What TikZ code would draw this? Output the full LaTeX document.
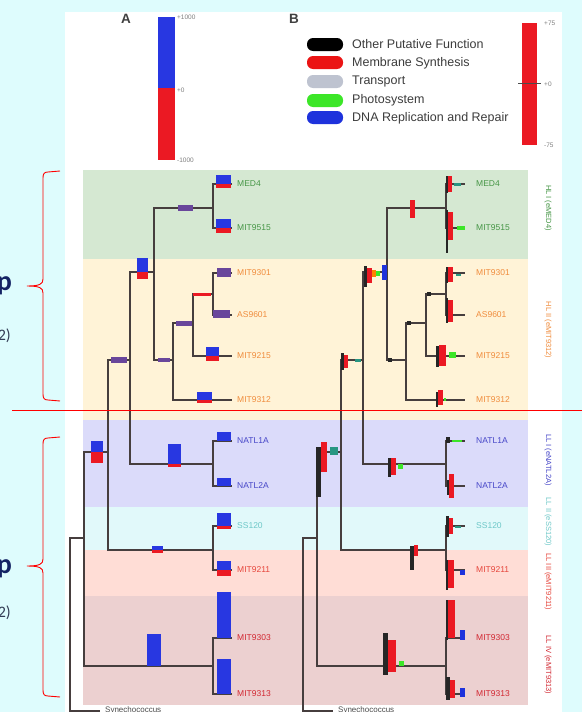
\documentclass[tikz,border=0pt]{standalone}
\usepackage{fontspec}
\setmainfont{Liberation Sans}
\newfontfamily\slidefont{Carlito}

\definecolor{slidebg}{RGB}{222,252,253}
\definecolor{bandHLI}{RGB}{213,232,210}
\definecolor{bandHLII}{RGB}{255,243,215}
\definecolor{bandLLI}{RGB}{219,219,250}
\definecolor{bandLLII}{RGB}{225,249,250}
\definecolor{bandLLIII}{RGB}{255,221,214}
\definecolor{bandLLIV}{RGB}{236,208,208}
\definecolor{txtHLI}{RGB}{70,150,70}
\definecolor{txtHLII}{RGB}{240,140,60}
\definecolor{txtLLI}{RGB}{70,70,200}
\definecolor{txtLLII}{RGB}{110,200,200}
\definecolor{txtLLIII}{RGB}{230,70,60}
\definecolor{txtLLIV}{RGB}{210,40,50}
\definecolor{treeline}{RGB}{70,62,62}
\definecolor{gainblue}{RGB}{40,55,225}
\definecolor{lossred}{RGB}{235,25,35}
\definecolor{mixpurple}{RGB}{105,70,155}
\definecolor{legred}{RGB}{235,20,20}
\definecolor{leggray}{RGB}{190,195,208}
\definecolor{leggreen}{RGB}{60,230,40}
\definecolor{legblue}{RGB}{30,50,220}
\definecolor{tealtick}{RGB}{40,150,130}
\definecolor{navy}{RGB}{20,35,100}
\definecolor{slidegray}{RGB}{50,60,85}
\definecolor{legtext}{RGB}{60,60,60}

\tikzset{
  branch/.style={draw=treeline, line width=1.4pt},
  gain/.style={fill=gainblue},
  loss/.style={fill=lossred},
  mix/.style={fill=mixpurple},
  blk/.style={fill=black!85},
  rd/.style={fill=lossred},
  leaflabel/.style={anchor=west, inner sep=0pt, font=\fontsize{8.5}{9}\selectfont},
  cladelabel/.style={rotate=-90, inner sep=0pt, font=\fontsize{7.5}{8}\selectfont},
  legpill/.style={rounded corners=6pt},
  legtxt/.style={anchor=west, inner sep=0pt, text=legtext, font=\fontsize{12.5}{13}\selectfont},
  scaletxt/.style={anchor=west, inner sep=0pt, text=gray, font=\fontsize{6.5}{7}\selectfont},
  panelletter/.style={inner sep=0pt, text=black!75, font=\bfseries\fontsize{13.5}{14}\selectfont},
  bracestyle/.style={draw=red, line width=0.9pt}
}

% Rectangular phylogram; #1 = name prefix, #2 = gap before leaf labels
\newcommand\phylotree[2]{%
  \coordinate (#1root)   at (70,620);
  \coordinate (#1pro)    at (84,538);
  \coordinate (#1hlll)   at (108,452);
  \coordinate (#1llIV)   at (213,666);
  \coordinate (#1hlnatl) at (130,360);
  \coordinate (#1ss)     at (213,550);
  \coordinate (#1hl)     at (154,272);
  \coordinate (#1natl)   at (213,464);
  \coordinate (#1hlI)    at (213,208);
  \coordinate (#1hlII)   at (173,360);
  \coordinate (#1na)     at (193,323);
  \coordinate (#1nb)     at (213,294);
  \coordinate (#1MED4)    at (232,184);
  \coordinate (#1MIT9515) at (232,228);
  \coordinate (#1MIT9301) at (232,273);
  \coordinate (#1AS9601)  at (232,315);
  \coordinate (#1MIT9215) at (232,356);
  \coordinate (#1MIT9312) at (232,400);
  \coordinate (#1NATL1A)  at (232,441);
  \coordinate (#1NATL2A)  at (232,486);
  \coordinate (#1SS120)   at (232,526);
  \coordinate (#1MIT9211) at (232,570);
  \coordinate (#1MIT9303) at (232,638);
  \coordinate (#1MIT9313) at (232,694);
  \coordinate (#1syn)     at (100,711);
  \foreach \pa/\ch in {root/pro, root/syn, pro/hlll, pro/llIV, hlll/hlnatl, hlll/ss,
      hlnatl/hl, hlnatl/natl, hl/hlI, hl/hlII, hlI/MED4, hlI/MIT9515, hlII/na,
      hlII/MIT9312, na/nb, na/MIT9215, nb/MIT9301, nb/AS9601, natl/NATL1A,
      natl/NATL2A, ss/SS120, ss/MIT9211, llIV/MIT9303, llIV/MIT9313}
    \draw[branch] (#1\pa) |- (#1\ch);
  \foreach \lf/\lc in {MED4/txtHLI, MIT9515/txtHLI, MIT9301/txtHLII, AS9601/txtHLII,
      MIT9215/txtHLII, MIT9312/txtHLII, NATL1A/txtLLI, NATL2A/txtLLI, SS120/txtLLII,
      MIT9211/txtLLIII, MIT9303/txtLLIV, MIT9313/txtLLIV}
    \node[leaflabel, text=\lc, xshift=#2] (#1\lf-lab) at (#1\lf) {\lf};
  \node[anchor=north west, inner sep=0pt, text=black!70, font=\fontsize{8}{8}\selectfont,
        xshift=5pt, yshift=5pt] (#1syn-lab) at (#1syn) {Synechococcus};
}

\begin{document}
\begin{tikzpicture}[x=1pt, y=-1pt]
\useasboundingbox (0,0) rectangle (582,712);
\fill[slidebg] (0,0) rectangle (582,712);
\fill[white] (65,12) rectangle (562,712);

% clade bands
\fill[bandHLI]   (83,170) rectangle (528,259);
\fill[bandHLII]  (83,259) rectangle (528,420);
\fill[bandLLI]   (83,420) rectangle (528,507);
\fill[bandLLII]  (83,507) rectangle (528,550);
\fill[bandLLIII] (83,550) rectangle (528,596);
\fill[bandLLIV]  (83,596) rectangle (528,705);

% clade names
\node[cladelabel, text=txtHLI]   (cHLI)   at (548,208) {HL I (eMED4)};
\node[cladelabel, text=txtHLII]  (cHLII)  at (548,330) {HL II (eMIT9312)};
\node[cladelabel, text=txtLLI]   (cLLI)   at (548,460) {LL I (eNATL2A)};
\node[cladelabel, text=txtLLII]  (cLLII)  at (548,522) {LL II (eSS120)};
\node[cladelabel, text=txtLLIII] (cLLIII) at (548,582) {LL III (eMIT9211)};
\node[cladelabel, text=txtLLIV]  (cLLIV)  at (548,665) {LL IV (eMIT9313)};

% panel letters
\node[panelletter] (pA) at (126,19) {A};
\node[panelletter] (pB) at (294,19) {B};

% scale bar of panel A
\fill[gainblue] (158,17) rectangle (175,88);
\fill[lossred]  (158,88) rectangle (175,160);
\node[scaletxt] (sa1) at (177,17) {+1000};
\node[scaletxt] (sa2) at (177,90) {+0};
\node[scaletxt] (sa3) at (177,160) {-1000};

% scale bar of panel B
\fill[lossred] (522,23) rectangle (537,145);
\draw[black!70, line width=0.8pt] (518,83) -- (541,83);
\node[scaletxt] (sb1) at (544,23) {+75};
\node[scaletxt] (sb2) at (544,84) {+0};
\node[scaletxt] (sb3) at (544,145) {-75};

% legend of panel B
\fill[legpill, black]    (307,38)  rectangle (343,51);
\fill[legpill, legred]   (307,56)  rectangle (343,69);
\fill[legpill, leggray]  (307,75)  rectangle (343,88);
\fill[legpill, leggreen] (307,94)  rectangle (343,107);
\fill[legpill, legblue]  (307,111) rectangle (343,124);
\node[legtxt] (l1) at (352,44)  {Other Putative Function};
\node[legtxt] (l2) at (352,63)  {Membrane Synthesis};
\node[legtxt] (l3) at (352,81)  {Transport};
\node[legtxt] (l4) at (352,100) {Photosystem};
\node[legtxt] (l5) at (352,118) {DNA Replication and Repair};

% trees
\phylotree{a}{5pt}
\begin{scope}[xshift=233pt]
\phylotree{b}{11pt}
\end{scope}

% panel A: gains (blue, above) and losses (red, below)
\fill[gain] (216,175) rectangle (231,184); \fill[loss] (216,184) rectangle (231,188);
\fill[gain] (216,219) rectangle (231,228); \fill[loss] (216,228) rectangle (231,233);
\fill[mix]  (178,205) rectangle (193,211);
\fill[mix]  (217,268) rectangle (231,277);
\fill[mix]  (213,310) rectangle (230,318);
\fill[loss] (193,292.5) rectangle (211,295.5);
\fill[mix]  (176,321) rectangle (192,326);
\fill[gain] (206,347) rectangle (219,356); \fill[loss] (206,356) rectangle (219,361);
\fill[mix]  (158,358) rectangle (170,362);
\fill[gain] (197,392) rectangle (212,400); \fill[loss] (197,400) rectangle (212,402.5);
\fill[gain] (137,258) rectangle (148,272); \fill[loss] (137,272) rectangle (148,279);
\fill[mix]  (111,357) rectangle (127,363);
\fill[gain] (217,432) rectangle (231,441);
\fill[gain] (217,478) rectangle (231,486);
\fill[gain] (168,444) rectangle (181,464); \fill[loss] (168,464) rectangle (181,467);
\fill[gain] (217,513) rectangle (231,526); \fill[loss] (217,526) rectangle (231,529);
\fill[gain] (217,561) rectangle (231,570); \fill[loss] (217,570) rectangle (231,576);
\fill[gain] (152,546) rectangle (163,550); \fill[loss] (152,550) rectangle (163,553);
\fill[gain] (91,441) rectangle (103,452);  \fill[loss] (91,452) rectangle (103,463);
\fill[gain] (217,592) rectangle (231,638);
\fill[gain] (217,659) rectangle (231,694);
\fill[gain] (147,634) rectangle (161,666);

% panel B: functional category bars
\fill[blk] (446,176) rectangle (448,193); \fill[rd] (448,176) rectangle (452,192);
\fill[tealtick] (454,183) rectangle (461,185.5);
\fill[blk] (446,210) rectangle (448,253); \fill[rd] (448,212) rectangle (453,240);
\fill[leggreen] (457,226) rectangle (465,230);
\fill[rd] (410,200) rectangle (415,218);
\fill[blk] (446,267) rectangle (448,283); \fill[rd] (448,267) rectangle (453,282);
\fill[tealtick] (456,274) rectangle (461,276);
\fill[blk] (446,298) rectangle (448,323); \fill[rd] (448,300) rectangle (453,322);
\fill[blk] (436,346) rectangle (439,367); \fill[rd] (439,345) rectangle (446,366);
\fill[leggreen] (449,352) rectangle (456,358);
\fill[blk] (436,392) rectangle (438,407); \fill[rd] (438,390) rectangle (443,405);
\fill[leggreen] (444,398) rectangle (446,401);
\fill[blk] (407,321) rectangle (411,325);
\fill[blk] (427,292) rectangle (431,296);
\fill[blk] (388,358) rectangle (392,362);
\fill[blk] (364,266) rectangle (367,287); \fill[rd] (367,268) rectangle (372,283);
\fill[orange] (372,270) rectangle (376,277); \fill[leggreen] (376,271) rectangle (380,276);
\fill[legblue] (382,265) rectangle (387,280);
\fill[blk] (341,353) rectangle (344,370); \fill[rd] (344,355) rectangle (348,368);
\fill[tealtick] (355,359) rectangle (361,362);
\fill[blk] (446,437) rectangle (450,443); \fill[leggreen] (452,440) rectangle (462,442);
\fill[blk] (447,480) rectangle (449,495); \fill[rd] (449,474) rectangle (454,498);
\fill[blk] (388,458) rectangle (391,477); \fill[rd] (391,458) rectangle (396,475);
\fill[leggreen] (398,464) rectangle (403,469);
\fill[blk] (316,447) rectangle (321,497); \fill[rd] (321,442) rectangle (327,472);
\fill[tealtick] (330,447) rectangle (338,455);
\fill[blk] (446,516) rectangle (449,537); \fill[rd] (449,518) rectangle (453,534);
\fill[tealtick] (455,526) rectangle (461,528);
\fill[blk] (410,546) rectangle (414,570); \fill[rd] (414,545) rectangle (418,556);
\fill[blk] (446,560) rectangle (448,590); \fill[rd] (448,560) rectangle (454,588);
\fill[legblue] (460,570) rectangle (465,575);
\fill[blk] (446,600) rectangle (448,640); \fill[rd] (448,600) rectangle (455,638);
\fill[legblue] (460,630) rectangle (465,640);
\fill[blk] (446,677) rectangle (450,700); \fill[rd] (450,680) rectangle (455,698);
\fill[legblue] (460,688) rectangle (465,697);
\fill[blk] (383,633) rectangle (388,675); \fill[rd] (388,640) rectangle (396,672);
\fill[leggreen] (399,661) rectangle (404,666);

% slide annotations: braces, divider and cropped captions
\draw[bracestyle] (60,171) -- (48,172) .. controls (44,172) and (43,174) .. (43,178)
  -- (43,279) .. controls (43,284) and (40,286) .. (27,286)
  .. controls (40,286) and (43,288) .. (43,293) -- (43,394)
  .. controls (43,398) and (44,400) .. (48,400) -- (60,401);
\draw[bracestyle] (60,437) -- (48,438) .. controls (44,438) and (43,440) .. (43,444)
  -- (43,559) .. controls (43,564) and (40,566) .. (27,566)
  .. controls (40,566) and (43,568) .. (43,573) -- (43,690)
  .. controls (43,694) and (44,696) .. (48,696) -- (60,697);
\draw[red, line width=1pt] (12,410) -- (582,410);

\node[anchor=base east, inner sep=0pt, text=navy, font=\slidefont\bfseries\fontsize{28}{28}\selectfont] (cap1) at (12,290) {p};
\node[anchor=base east, inner sep=0pt, text=slidegray, font=\slidefont\fontsize{16}{16}\selectfont] (cap2) at (11,340) {2)};
\node[anchor=base east, inner sep=0pt, text=navy, font=\slidefont\bfseries\fontsize{28}{28}\selectfont] (cap3) at (12,573) {p};
\node[anchor=base east, inner sep=0pt, text=slidegray, font=\slidefont\fontsize{16}{16}\selectfont] (cap4) at (11,617) {2)};
\end{tikzpicture}
\end{document}
